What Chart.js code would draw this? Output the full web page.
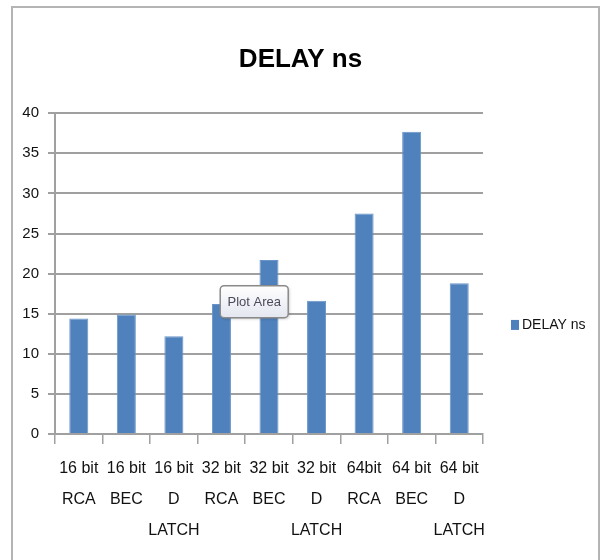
<!DOCTYPE html>
<html>
<head>
<meta charset="utf-8">
<script src="https://cdn.jsdelivr.net/npm/chart.js@4/dist/chart.umd.min.js"></script>
<style>
  html, body { margin: 0; padding: 0; background: #fff; }
  #wrap { position: relative; width: 601px; height: 560px; }
</style>
</head>
<body>
<div id="wrap"><canvas id="c" width="601" height="560"></canvas></div>
<script>
// Circuit variants (multi-line labels) and their measured delay in ns
const categories = [
  ['16 bit', 'RCA'], ['16 bit', 'BEC'], ['16 bit', 'D', 'LATCH'],
  ['32 bit', 'RCA'], ['32 bit', 'BEC'], ['32 bit', 'D', 'LATCH'],
  ['64bit', 'RCA'], ['64 bit', 'BEC'], ['64 bit', 'D', 'LATCH']
];
const seriesName = 'DELAY ns';
const delayNs = [14.4, 14.9, 12.2, 16.2, 21.7, 16.6, 27.5, 37.7, 18.8];
const yTicks = [0, 5, 10, 15, 20, 25, 30, 35, 40];

const FONT = "'Liberation Sans', Arial, sans-serif";
const BAR_BLUE = '#4f81bd';
const GRID = '#a0a0a0';

// Outer chart frame
const framePlugin = {
  id: 'frame',
  beforeDraw(chart) {
    const ctx = chart.ctx;
    ctx.save();
    ctx.strokeStyle = '#b4b4b4';
    ctx.lineWidth = 2;
    ctx.strokeRect(12, 7, 587, 600);
    ctx.restore();
  }
};

// Legend entry drawn to the right of the plot
const sideLegend = {
  id: 'sideLegend',
  afterDraw(chart) {
    const ds = chart.data.datasets[0];
    const ctx = chart.ctx;
    const x = chart.chartArea.right + 28;
    const y = chart.scales.y.getPixelForValue(13.6);
    ctx.save();
    ctx.fillStyle = ds.backgroundColor;
    ctx.fillRect(x, y - 5, 8, 10);
    ctx.fillStyle = '#111';
    ctx.font = '14px ' + FONT;
    ctx.textBaseline = 'middle';
    ctx.textAlign = 'left';
    ctx.fillText(ds.label, x + 11, y);
    ctx.restore();
  }
};

// "Plot Area" hover hint box
const hintPlugin = {
  id: 'hint',
  afterDraw(chart) {
    const ctx = chart.ctx;
    const xs = chart.scales.x, ys = chart.scales.y;
    const cx = (xs.getPixelForValue(3) + xs.getPixelForValue(4)) / 2 + 9;
    const cy = ys.getPixelForValue(16.5);
    const w = 68, h = 32, r = 4;
    const x0 = cx - w / 2, y0 = cy - h / 2;
    ctx.save();
    ctx.shadowColor = 'rgba(0,0,0,0.25)';
    ctx.shadowBlur = 3;
    ctx.shadowOffsetX = 1;
    ctx.shadowOffsetY = 1;
    const g = ctx.createLinearGradient(0, y0, 0, y0 + h);
    g.addColorStop(0, '#ffffff');
    g.addColorStop(1, '#e4e6f0');
    ctx.fillStyle = g;
    ctx.beginPath();
    ctx.roundRect(x0, y0, w, h, r);
    ctx.fill();
    ctx.shadowColor = 'transparent';
    ctx.strokeStyle = '#8a8a8a';
    ctx.lineWidth = 1.5;
    ctx.stroke();
    ctx.fillStyle = '#4a4a5a';
    ctx.font = '13px ' + FONT;
    ctx.textAlign = 'center';
    ctx.textBaseline = 'middle';
    ctx.fillText('Plot Area', cx, cy + 1);
    ctx.restore();
  }
};

new Chart(document.getElementById('c'), {
  type: 'bar',
  data: {
    labels: categories,
    datasets: [{
      label: seriesName,
      data: delayNs,
      backgroundColor: BAR_BLUE,
      borderColor: '#6a94c8',
      borderWidth: 1,
      barPercentage: 0.4,
      categoryPercentage: 1.0
    }]
  },
  options: {
    responsive: false,
    animation: false,
    layout: { padding: 0 },
    plugins: {
      legend: { display: false },
      tooltip: { enabled: false },
      title: {
        display: true,
        text: 'DELAY ns',
        color: '#000',
        font: { family: FONT, size: 26, weight: 'bold', lineHeight: 1.2 },
        padding: { top: 44, bottom: 38 }
      }
    },
    scales: {
      x: {
        offset: true,
        grid: {
          offset: true,
          drawOnChartArea: false,
          drawTicks: true,
          tickLength: 10,
          color: GRID,
          lineWidth: 1.5
        },
        border: { display: true, color: GRID, width: 2 },
        ticks: {
          color: '#111',
          padding: 9,
          maxRotation: 0,
          autoSkip: false,
          font: { family: FONT, size: 16, lineHeight: 1.94 }
        },
        afterFit(scale) { scale.height = 126; }
      },
      y: {
        min: 0,
        max: 40,
        afterBuildTicks(scale) { scale.ticks = yTicks.map(v => ({ value: v })); },
        grid: {
          color: GRID,
          lineWidth: 2,
          drawTicks: true,
          tickLength: 7
        },
        border: { display: true, color: GRID, width: 2 },
        ticks: {
          color: '#111',
          padding: 9,
          font: { family: FONT, size: 15 }
        },
        afterFit(scale) { scale.width = 55; }
      },
      // empty right-hand band that holds the legend
      legendBand: {
        type: 'linear',
        position: 'right',
        display: true,
        grid: { display: false, drawTicks: false },
        border: { display: false },
        ticks: { display: false },
        afterFit(scale) { scale.width = 118; }
      }
    }
  },
  plugins: [framePlugin, sideLegend, hintPlugin]
});
</script>
</body>
</html>
